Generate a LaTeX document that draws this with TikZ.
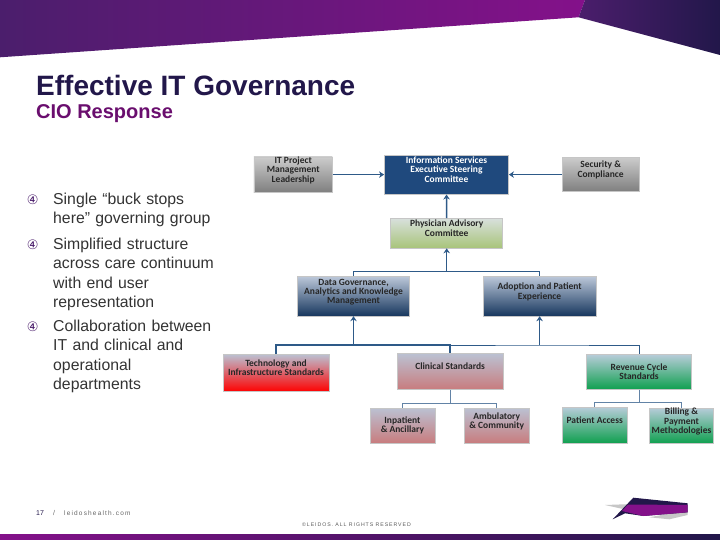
\documentclass[tikz,border=0pt]{standalone}
\usepackage{fontspec}
\setmainfont{Liberation Sans}
\newfontfamily\boxfont{Carlito}
\newfontfamily\circfont{DejaVu Sans}
\newfontfamily\spacedfont[LetterSpace=18]{Liberation Sans}
\usepackage{xcolor}
\usetikzlibrary{arrows.meta,shapes}
\definecolor{leidosdark}{HTML}{22174A}
\definecolor{leidosmid}{HTML}{4B1E6C}
\definecolor{leidospurple}{HTML}{84118A}
\definecolor{arrowblue}{HTML}{2E5A88}
\definecolor{navy}{HTML}{1F497D}
\definecolor{deepblue}{HTML}{17375E}
\definecolor{paleblue}{HTML}{BAC6D8}
\definecolor{oliveleaf}{HTML}{A8C47A}
\definecolor{paleleaf}{HTML}{D8E0DC}
\definecolor{paleslate}{HTML}{BBC1D2}
\definecolor{dustyrose}{HTML}{C87C7E}
\definecolor{paleteal}{HTML}{B6CCD8}
\definecolor{leafgreen}{HTML}{10A050}
\begin{document}
\begin{tikzpicture}[
  x=1pt, y=-1pt,
  box/.style={
    rectangle, draw=gray!45, line width=0.5pt, align=center,
    inner sep=0pt, font=\boxfont\fontsize{9.5}{9.3}\selectfont\bfseries,
    text=black!85,
  },
  up/.style={text depth=10pt},
  greybox/.style={box, top color=black!20, bottom color=black!50},
  navybox/.style={box, fill=navy, text=white},
  greenbox/.style={box, top color=paleleaf, bottom color=oliveleaf},
  bluebox/.style={box, top color=paleblue, bottom color=deepblue},
  redbox/.style={box, top color=paleslate, bottom color=red},
  rosebox/.style={box, top color=paleslate, bottom color=dustyrose},
  mintbox/.style={box, top color=paleteal, bottom color=leafgreen},
  link/.style={draw=arrowblue, line width=1.5pt},
  side link/.style={draw=arrowblue, line width=0.8pt},
  arrow/.style={link, -{Stealth[length=5pt,width=6.5pt]}},
  side arrow/.style={side link, -{Stealth[length=5pt,width=6.5pt]}},
  thin link/.style={draw=arrowblue!75, line width=0.6pt},
  item/.style={anchor=north west, align=left, inner sep=0pt, text width=170pt,
    font=\fontsize{15.8}{19.2}\selectfont, text=black!80},
  bulletmark/.style={inner sep=0pt, text=leidosmid, font=\circfont\fontsize{13}{14}\selectfont},
]
  \useasboundingbox (0,0) rectangle (720,540);
  % BANNER
  \shade[left color=leidosmid, right color=leidospurple] (0,0) -- (585,0) -- (578.6,17.3) -- (0,57.3) -- cycle;
  \shade[left color=leidosmid, right color=leidosdark] (585,0) -- (720,0) -- (720,55) -- (578.6,17.3) -- cycle;
  \shade[left color=leidospurple, right color=leidosdark] (0,534) rectangle (720,540);
  % TITLE
  \node[anchor=west, inner sep=0pt, text=leidosdark, font=\fontsize{28}{30}\selectfont\bfseries] (title) at (36,85.5) {Effective IT Governance};
  \node[anchor=west, inner sep=0pt, text=leidospurple!80!black, font=\fontsize{20}{22}\selectfont\bfseries] (subtitle) at (36,113.5) {CIO Response};
  % BULLETS
  \node[item] (item1) at (53,193) {Single ``buck stops\\here'' governing group};
  \node[item] (item2) at (53,238) {Simplified structure\\across care continuum\\with end user\\representation};
  \node[item] (item3) at (53,320) {Collaboration between\\IT and clinical and\\operational\\departments};
  \node[bulletmark] (mark1) at (32.7,199.5) {④};
  \node[bulletmark] (mark2) at (32.7,244.5) {④};
  \node[bulletmark] (mark3) at (32.7,326.5) {④};
  % TOP ROW
  \node[greybox,up,minimum width=78.5pt,minimum height=34.4pt] (itpm) at (293.2,174.5) {IT Project\\Management\\Leadership};
  \node[navybox,up,minimum width=124.4pt,minimum height=39.3pt] (exec) at (446.5,174.6) {Information Services\\Executive Steering\\Committee};
  \node[greybox,up,minimum width=76.7pt,minimum height=34pt] (security) at (600.6,174.3) {Security \&\\Compliance};
  \node[greenbox,up,minimum width=112pt,minimum height=29.7pt] (physician) at (446.7,233.2) {Physician Advisory\\Committee};
  % MIDDLE ROW
  \node[bluebox,up,minimum width=112.4pt,minimum height=39.3pt] (datagov) at (353.5,296.3) {Data Governance,\\Analytics and Knowledge\\Management};
  \node[bluebox,up,minimum width=112.7pt,minimum height=39.3pt] (adoption) at (539.6,296.3) {Adoption and Patient\\Experience};
  % STANDARDS
  \node[redbox,up,minimum width=106pt,minimum height=37.4pt] (tech) at (276,373) {Technology and\\Infrastructure Standards};
  \node[rosebox,up,minimum width=105.7pt,minimum height=35.6pt] (clinical) at (450.1,371.5) {Clinical Standards};
  \node[mintbox,minimum width=105.4pt,minimum height=34.6pt] (revenue) at (639,372) {Revenue Cycle\\Standards};
  % LOWER ROW
  \node[rosebox,minimum width=64.7pt,minimum height=35pt] (inpatient) at (402.4,425.5) {Inpatient\\\& Ancillary};
  \node[rosebox,up,minimum width=64.7pt,minimum height=35pt] (ambulatory) at (496.7,425.5) {Ambulatory\\\& Community};
  \node[mintbox,up,minimum width=64.7pt,minimum height=35.7pt] (patient) at (594.7,425.2) {Patient Access};
  \node[mintbox,up,minimum width=64.4pt,minimum height=34.7pt] (billing) at (681.5,425.7) {Billing \&\\Payment\\Methodologies};
  % junctions
  \coordinate (upper bus) at (446.7,271.5);
  \coordinate (lower left) at (353.5,345);
  \coordinate (lower right) at (539.6,345);
  \coordinate (clinical bus) at (450.1,403.3);
  \coordinate (revenue bus) at (639,402.3);
  % associations
  \draw[side arrow] (itpm.east |- exec.center) -- (exec.west);
  \draw[side arrow] (security.west |- exec.center) -- (exec.east);
  \draw[arrow] (physician.north) -- (exec.south);
  \draw[arrow] (upper bus) -- (physician.south);
  \draw[link] (datagov.north) -- (datagov.north |- upper bus) -- (adoption.north |- upper bus) -- (adoption.north);
  \draw[arrow] (lower left) -- (datagov.south);
  \draw[arrow] (lower right) -- (adoption.south);
  \draw[link] (tech.north) |- (lower left) -- (clinical.north |- lower left) -- (clinical.north);
  \draw[side link] (clinical.north |- lower left) -- (lower right) -| (revenue.north);
  \draw[thin link] (clinical.south) -- (clinical bus);
  \draw[thin link] (inpatient.north) |- (clinical bus) -| (ambulatory.north);
  \draw[thin link] (revenue.south) -- (revenue bus);
  \draw[thin link] (patient.north) |- (revenue bus) -| (billing.north);
  % FOOTER
  \node[anchor=west, inner sep=0pt, text=leidosdark, font=\fontsize{7}{8}\selectfont] (page) at (36,513) {17};
  \node[anchor=west, inner sep=0pt, text=black!60, font=\fontsize{7}{8}\selectfont] (slash) at (53,513) {/};
  \node[anchor=west, inner sep=0pt, text=black!60, font=\spacedfont\fontsize{6.5}{8}\selectfont] (site) at (64,513) {leidoshealth.com};
  \node[anchor=west, inner sep=0pt, text=black!65, font=\spacedfont\fontsize{5.2}{6}\selectfont] (rights) at (302,525) {©LEIDOS. ALL RIGHTS RESERVED};
  % LOGO
  \fill[black!22] (605,505) -- (633,504) -- (623,509) -- cycle;
  \fill[black!22] (649.3,517.3) -- (687.7,510) -- (687.7,515) -- (669.3,519.3) -- cycle;
  \fill[leidosdark] (633.3,497.7) -- (687.7,503.3) -- (687.7,512.3) -- (643.3,516) -- (625,513.3) -- (612.7,519.3) -- cycle;
  \fill[leidospurple] (628,504.5) -- (687.7,505) -- (687.7,512.3) -- (643.3,516) -- (622,511) -- cycle;
\end{tikzpicture}
\end{document}
